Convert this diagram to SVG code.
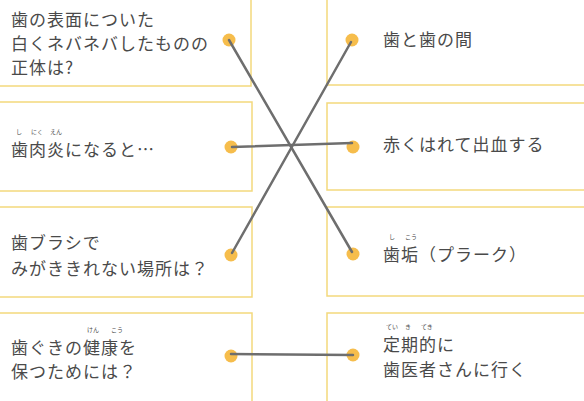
<svg xmlns="http://www.w3.org/2000/svg" width="584" height="401" viewBox="0 0 584 401">
<style>
.box{fill:#fff;stroke:#f3d97c;stroke-width:1.5}
.dot{fill:#f6bd4c}
.t{font-family:"Noto Sans CJK JP","Noto Sans",sans-serif;font-size:17px;fill:#4a4a4a;letter-spacing:1px}
.r{font-family:"Noto Sans CJK JP","Noto Sans",sans-serif;font-size:6px;fill:#4a4a4a}
.ln{stroke:#6e6e6e;stroke-width:2.5;stroke-linecap:round;fill:none}
</style>
<rect width="584" height="401" fill="#fff"/>
<g id="q1">
<rect class="box" x="-5" y="-5" width="256" height="91"/>
<text class="t" x="11" y="26">歯の表面についた</text>
<text class="t" x="11" y="50">白くネバネバしたものの</text>
<text class="t" x="11" y="74">正体は?</text>
<circle class="dot" cx="229" cy="40" r="6.5"/>
</g>
<g id="q2">
<rect class="box" x="-5" y="102" width="257" height="89"/>
<text class="r" x="16" y="134">し</text>
<text class="r" x="31" y="134">にく</text>
<text class="r" x="50" y="134">えん</text>
<text class="t" x="11" y="156">歯肉炎になると…</text>
<circle class="dot" cx="231" cy="147" r="6.5"/>
</g>
<g id="q3">
<rect class="box" x="-5" y="207" width="257" height="90"/>
<text class="t" x="11" y="249">歯ブラシで</text>
<text class="t" x="11" y="275">みがききれない場所は？</text>
<circle class="dot" cx="231" cy="255" r="6.5"/>
</g>
<g id="q4">
<rect class="box" x="-5" y="313" width="257" height="95"/>
<text class="r" x="87" y="332">けん</text>
<text class="r" x="111" y="332">こう</text>
<text class="t" x="11" y="354">歯ぐきの健康を</text>
<text class="t" x="11" y="378">保つためには？</text>
<circle class="dot" cx="231" cy="356" r="6.5"/>
</g>
<g id="a1">
<rect class="box" x="327" y="-5" width="262" height="90"/>
<text class="t" x="383" y="46">歯と歯の間</text>
<circle class="dot" cx="352" cy="40" r="6.5"/>
</g>
<g id="a2">
<rect class="box" x="327" y="103" width="262" height="87"/>
<text class="t" x="383" y="151">赤くはれて出血する</text>
<circle class="dot" cx="353" cy="147" r="6.5"/>
</g>
<g id="a3">
<rect class="box" x="327" y="207" width="262" height="89"/>
<text class="r" x="389" y="239">し</text>
<text class="r" x="405" y="239">こう</text>
<text class="t" x="383" y="261">歯垢（プラーク）</text>
<circle class="dot" cx="353" cy="254" r="6.5"/>
</g>
<g id="a4">
<rect class="box" x="327" y="313" width="262" height="95"/>
<text class="r" x="386" y="329">てい</text>
<text class="r" x="405" y="329">き</text>
<text class="r" x="421" y="329">てき</text>
<text class="t" x="383" y="351">定期的に</text>
<text class="t" x="383" y="376">歯医者さんに行く</text>
<circle class="dot" cx="353" cy="355" r="6.5"/>
</g>
<g id="connectors">
<line class="ln" x1="229" y1="40" x2="352" y2="252"/>
<line class="ln" x1="232" y1="147" x2="352" y2="143"/>
<line class="ln" x1="232" y1="253" x2="351" y2="42"/>
<line class="ln" x1="231" y1="354" x2="353" y2="355"/>
</g>
</svg>
